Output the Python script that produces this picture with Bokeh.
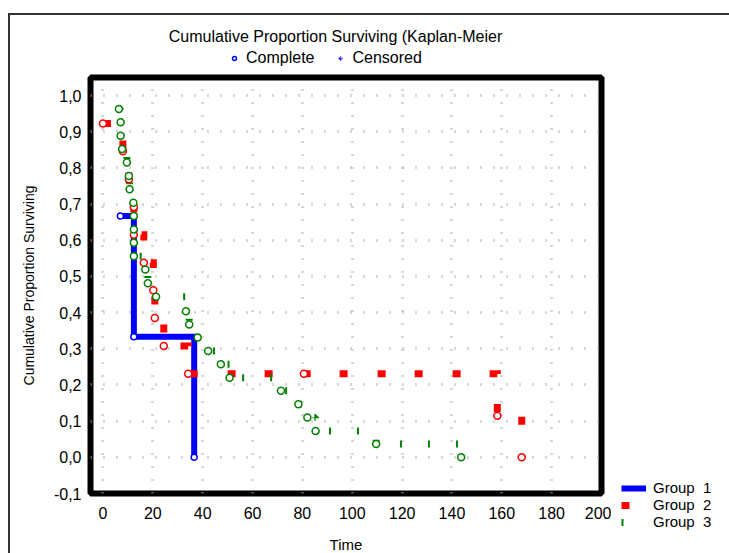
from bokeh.plotting import figure
from bokeh.layouts import column, row
from bokeh.models import Range1d, FixedTicker, Legend, LegendItem, Label
from bokeh.embed import file_html
from bokeh.resources import INLINE

# Kaplan-Meier estimates: time of each complete event and survival just after it
g1_time = [7.0, 12.4, 36.6]
g1_surv = [0.667, 0.333, 0.0]

g2_time = [0.0, 8.0, 10.4, 12.4, 12.4, 16.4, 20.2, 20.8, 24.4, 34.2, 158.2, 168.0]
g2_surv = [0.923, 0.846, 0.769, 0.692, 0.615, 0.538, 0.462, 0.385, 0.308, 0.231, 0.115, 0.0]
g2_cens_time = [80.6]
g2_cens_surv = [0.231]

g3_time = [6.4, 7.1, 7.1, 7.7, 9.6, 10.4, 10.7, 12.2, 12.4, 12.4, 12.4, 12.4, 17.0, 18.0,
           21.3, 33.3, 34.6, 38.0, 42.2, 47.3, 50.8, 71.4, 78.4, 82.0, 85.3, 109.6, 143.7]
g3_surv = [0.963, 0.926, 0.889, 0.852, 0.815, 0.778, 0.741, 0.704, 0.667, 0.630, 0.593, 0.556,
           0.519, 0.481, 0.444, 0.404, 0.367, 0.331, 0.294, 0.257, 0.220, 0.184, 0.147, 0.110,
           0.073, 0.037, 0.0]

group_labels = ["Group  1", "Group  2", "Group  3"]
x_ticks = [0, 20, 40, 60, 80, 100, 120, 140, 160, 180, 200]
y_ticks = [-0.1, 0.0, 0.1, 0.2, 0.3, 0.4, 0.5, 0.6, 0.7, 0.8, 0.9, 1.0]
y_tick_labels = ["-0,1", "0,0", "0,1", "0,2", "0,3", "0,4", "0,5", "0,6", "0,7", "0,8", "0,9", "1,0"]

FONT = "Liberation Sans"
BLUE, RED, GREEN = "#0000ff", "#ff0000", "#008000"
STYLE_1 = dict(line_color=BLUE, line_width=6, line_join="miter")
STYLE_2 = dict(line_color=RED, line_width=7, line_dash="8 29 8 30", line_join="miter")
STYLE_3 = dict(line_color=GREEN, line_width=7, line_dash="2 26")

# swatch-only renderers sit outside the visible range of their panel
OFF_X, OFF_Y = [-1000, -990], [-1000, -1000]


def step_path(t, s):
    """Survival step curve: hold each level until the next event, then drop."""
    xs, ys = [t[0]], [s[0]]
    for i in range(1, len(t)):
        for px, py in ((t[i], s[i - 1]), (t[i], s[i])):
            if (px, py) != (xs[-1], ys[-1]):
                xs.append(px)
                ys.append(py)
    return xs, ys


def blank_panel(w, h):
    """Axis-free figure whose whole canvas is its drawing frame."""
    f = figure(width=w, height=h, x_range=Range1d(0, w), y_range=Range1d(0, h),
               x_axis_type=None, y_axis_type=None, output_backend="svg",
               toolbar_location=None, min_border=0)
    f.frame_align = False
    f.outline_line_color = None
    f.grid.visible = False
    f.background_fill_color = "white"
    f.border_fill_color = "white"
    return f


# ---- main chart -------------------------------------------------------------
p = figure(frame_width=511, frame_height=416,
           x_range=Range1d(-5, 200), y_range=Range1d(-0.1, 1.05),
           output_backend="svg", toolbar_location=None,
           min_border_left=80, min_border_right=10, min_border_top=6, min_border_bottom=60)
p.frame_align = False
p.background_fill_color = "white"
p.border_fill_color = "white"
p.outline_line_color = "black"
p.outline_line_width = 6

# axes: labels only, the heavy frame stands in for axis lines
p.xaxis.ticker = FixedTicker(ticks=x_ticks)
p.yaxis.ticker = FixedTicker(ticks=y_ticks)
p.yaxis.major_label_overrides = dict(zip(y_ticks, y_tick_labels))
for ax in (p.xaxis[0], p.yaxis[0]):
    ax.axis_line_color = None
    ax.major_tick_line_color = None
    ax.minor_tick_line_color = None
    ax.major_label_text_font = FONT
    ax.major_label_text_font_size = "16px"
    ax.major_label_text_color = "black"
    ax.axis_label_text_font = FONT
    ax.axis_label_text_font_style = "normal"
    ax.axis_label_text_color = "black"
p.xaxis.major_label_standoff = 7
p.yaxis.major_label_standoff = 3
p.xaxis.axis_label = "Time"
p.xaxis.axis_label_text_font_size = "15px"
p.xaxis.axis_label_standoff = 14
p.yaxis.axis_label = "Cumulative Proportion Surviving"
p.yaxis.axis_label_text_font_size = "14px"
p.yaxis.axis_label_standoff = 14

# sparse tick-mark style grid
p.xgrid.ticker = FixedTicker(ticks=x_ticks)
p.xgrid.grid_line_color = "#b0b0b0"
p.xgrid.grid_line_width = 3
p.xgrid.grid_line_dash = "1 12"
p.ygrid.ticker = FixedTicker(ticks=y_ticks)
p.ygrid.grid_line_color = "#b0b0b0"
p.ygrid.grid_line_width = 3
p.ygrid.grid_line_dash = "1 12"

# survival curves
x1, y1 = step_path(g1_time, g1_surv)
x2, y2 = step_path(g2_time, g2_surv)
x3, y3 = step_path(g3_time, g3_surv)
p.line(x1, y1, **STYLE_1)
p.line(x2, y2, **STYLE_2)
p.line(x3, y3, **STYLE_3)

# complete observations
p.scatter(g1_time, g1_surv, marker="circle", size=6, line_color=BLUE,
          fill_color="white", line_width=1.5)
p.scatter(g2_time, g2_surv, marker="circle", size=7, line_color=RED,
          fill_color="white", line_width=1.5)
p.scatter(g2_cens_time, g2_cens_surv, marker="circle", size=7, line_color=RED,
          fill_color="white", line_width=1.5)
p.scatter(g3_time, g3_surv, marker="circle", size=7, line_color=GREEN,
          fill_color="white", line_width=1.5)

# ---- header: title and symbol key -------------------------------------------
head = blank_panel(719, 56)
head.add_layout(Label(x=325, y=35, x_units="screen", y_units="screen",
                      text="Cumulative Proportion Surviving (Kaplan-Meier",
                      text_align="center", text_baseline="middle",
                      text_font=FONT, text_font_size="16px", text_color="black"))
key_complete = head.scatter(x=OFF_X, y=OFF_Y, marker="circle", size=6, line_color=BLUE,
                            fill_color="white", line_width=1.5)
key_censored = head.scatter(x=OFF_X, y=OFF_Y, marker="cross", size=10, line_color=BLUE,
                            line_width=1.5, line_dash="2 1")
head.add_layout(Legend(
    items=[LegendItem(label="Complete", renderers=[key_complete]),
           LegendItem(label="Censored", renderers=[key_censored])],
    location=(219, 4), orientation="horizontal",
    glyph_width=10, glyph_height=14, label_height=16, spacing=21, label_standoff=7,
    padding=0, margin=0, border_line_color=None, background_fill_alpha=0,
    label_text_font=FONT, label_text_font_size="16px", label_text_color="black"))

# ---- side: group legend -------------------------------------------------------
side = blank_panel(118, 482)
sw1 = side.line(x=OFF_X, y=OFF_Y, **STYLE_1)
sw2 = side.line(x=OFF_X, y=OFF_Y, **STYLE_2)
sw3 = side.line(x=OFF_X, y=OFF_Y, **STYLE_3)
side.add_layout(Legend(
    items=[LegendItem(label=group_labels[0], renderers=[sw1]),
           LegendItem(label=group_labels[1], renderers=[sw2]),
           LegendItem(label=group_labels[2], renderers=[sw3])],
    location=(10, 23), orientation="vertical",
    glyph_width=25, glyph_height=16, label_height=16, spacing=0, label_standoff=7,
    padding=0, margin=0, border_line_color=None, background_fill_alpha=0,
    label_text_font=FONT, label_text_font_size="15px", label_text_color="black"))

page = column(head, row(p, side, spacing=0), spacing=0)
page.styles = {"margin-left": "8px", "margin-top": "13px",
               "border-left": "2px solid #333", "border-top": "2px solid #333"}

open("out.html", "w").write(file_html(page, INLINE))
